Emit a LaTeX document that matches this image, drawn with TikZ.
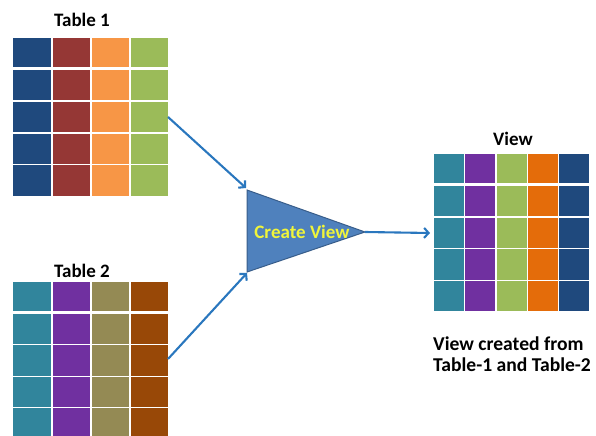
\documentclass[tikz,border=0pt]{standalone}
\usepackage{fontspec}
\setmainfont{Carlito}
\usetikzlibrary{arrows.meta}

% cell colours
\definecolor{cNavy}{HTML}{1F497D}
\definecolor{cBrick}{HTML}{953735}
\definecolor{cOrange}{HTML}{F79646}
\definecolor{cGreen}{HTML}{9BBB59}
\definecolor{cTeal}{HTML}{31859C}
\definecolor{cPurple}{HTML}{7030A0}
\definecolor{cOlive}{HTML}{948A54}
\definecolor{cBrown}{HTML}{984807}
\definecolor{cDeepOrange}{HTML}{E46C0A}
% shapes and connectors
\definecolor{triFill}{HTML}{4F81BD}
\definecolor{triEdge}{HTML}{385D8A}
\definecolor{flowBlue}{HTML}{2A77BE}
\definecolor{labelYellow}{HTML}{F0F53A}

% #1 left x, #2 header top, #3 column width, #4 header height,
% #5 body top, #6 row height, #7 list of column colours
\newcommand\gridtable[7]{%
  \foreach \c [count=\i from 0] in {#7} {%
    \filldraw[cellbox, fill=\c] (#1+\i*#3, #2) rectangle ++(#3, #4);
    \foreach \r in {0,...,3}
      \filldraw[cellbox, fill=\c] (#1+\i*#3, #5+\r*#6) rectangle ++(#3, #6);
  }%
}

\begin{document}
\begin{tikzpicture}[x=1bp, y=-1bp,
  cellbox/.style={draw=white, line width=1.4bp},
  title/.style={font=\bfseries\fontsize{19bp}{21bp}\selectfont, anchor=base, inner sep=0pt},
  caption/.style={font=\bfseries\fontsize{19.6bp}{22bp}\selectfont, anchor=base west, inner sep=0pt},
  flow/.style={draw=flowBlue, line width=2.1bp, -{Straight Barb[length=4.5bp, width=10bp]}}]
\useasboundingbox (0,0) rectangle (596,436);

% Table 1
\node[title] (t1title) at (82,27) {Table 1};
\gridtable{12.7}{37}{39.1}{30.3}{69.5}{31.7}{cNavy,cBrick,cOrange,cGreen}

% Table 2 (runs off the lower edge)
\begin{scope}
\clip (0,0) rectangle (596,436);
\node[title] (t2title) at (82,277.5) {Table 2};
\gridtable{12.7}{281}{39.1}{30.3}{313.2}{31.5}{cTeal,cPurple,cOlive,cBrown}
\end{scope}

% View
\node[title] (vtitle) at (513,146) {View};
\gridtable{433}{153}{31.4}{30.3}{185.7}{31.5}{cTeal,cPurple,cGreen,cDeepOrange,cNavy}
\node[caption] (cap1) at (433,350) {View created from};
\node[caption] (cap2) at (433,371) {Table-1 and Table-2};

% Create View triangle
\coordinate (tritop) at (247,190);
\coordinate (tribot) at (247,272);
\coordinate (triapex) at (365,232);
\filldraw[fill=triFill, draw=triEdge, line width=1bp, line join=miter]
  (tritop) -- (triapex) -- (tribot) -- cycle;
\node[font=\bfseries\fontsize{19bp}{21bp}\selectfont, text=labelYellow,
      anchor=base, inner sep=0pt] (create) at (302,238.5) {Create View};

% connectors
\coordinate (t1out) at (168,117);
\coordinate (t2out) at (168,359);
\coordinate (viewin) at (430,233);
\draw[flow] (t1out) -- ([shift={(-1,-2)}]tritop);
\draw[flow] (t2out) -- ([shift={(0,1)}]tribot);
\draw[flow] (triapex) -- (viewin);
\end{tikzpicture}
\end{document}
